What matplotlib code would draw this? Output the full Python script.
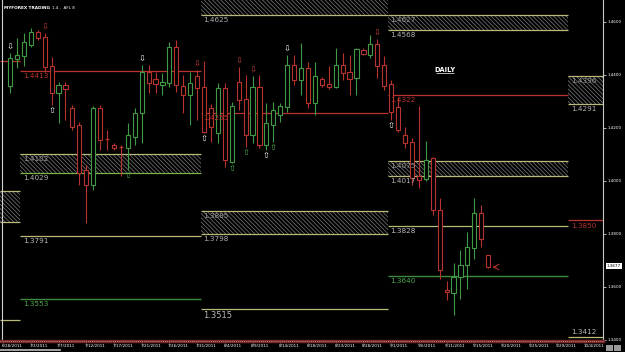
import matplotlib
matplotlib.use("Agg")
import matplotlib.pyplot as plt
import matplotlib.transforms as mtransforms
from matplotlib.patches import Rectangle
from matplotlib.lines import Line2D
import numpy as np

# daily EURUSD bars, 6/29/2011 .. 9/18/2011 (bar index 0..69)
opens = [1.4357, 1.4459, 1.4471, 1.4512, 1.4561, 1.4542, 1.4433, 1.4331, 1.4361, 1.4274,
         1.4210, 1.4040, 1.3984, 1.4274, 1.4161, 1.4135, 1.4131, 1.4124, 1.4165, 1.4256,
         1.4410, 1.4384, 1.4361, 1.4369, 1.4505, 1.4357, 1.4324, 1.4395, 1.4354, 1.4274,
         1.4180, 1.4350, 1.4071, 1.4373, 1.4308, 1.4173, 1.4354, 1.4135, 1.4210, 1.4248,
         1.4278, 1.4437, 1.4380, 1.4425, 1.4293, 1.4384, 1.4365, 1.4354, 1.4437, 1.4410,
         1.4388, 1.4493, 1.4474, 1.4516, 1.4437, 1.4365, 1.4278, 1.4173, 1.4146, 1.4018,
         1.4007, 1.4086, 1.3890, 1.3588, 1.3576, 1.3637, 1.3682, 1.3746, 1.3878, 1.3720]
highs = [1.4482, 1.4539, 1.4557, 1.4576, 1.4569, 1.4557, 1.4467, 1.4373, 1.4373, 1.4286,
         1.4222, 1.4059, 1.4282, 1.4286, 1.4191, 1.4142, 1.4135, 1.4218, 1.4274, 1.4437,
         1.4437, 1.4410, 1.4406, 1.4523, 1.4531, 1.4399, 1.4410, 1.4418, 1.4452, 1.4290,
         1.4369, 1.4369, 1.4297, 1.4429, 1.4399, 1.4395, 1.4399, 1.4293, 1.4297, 1.4293,
         1.4474, 1.4474, 1.4520, 1.4448, 1.4448, 1.4391, 1.4433, 1.4501, 1.4482, 1.4474,
         1.4501, 1.4501, 1.4550, 1.4535, 1.4471, 1.4380, 1.4316, 1.4203, 1.4161, 1.4282,
         1.4150, 1.4090, 1.3935, 1.3622, 1.3690, 1.3739, 1.3807, 1.3935, 1.3908, 1.3720]
lows = [1.4331, 1.4425, 1.4433, 1.4505, 1.4531, 1.4410, 1.4286, 1.4218, 1.4229, 1.4191,
        1.3984, 1.3840, 1.3965, 1.4116, 1.4116, 1.4116, 1.4018, 1.4040, 1.4135, 1.4142,
        1.4331, 1.4331, 1.4324, 1.4354, 1.4335, 1.4256, 1.4210, 1.4229, 1.4180, 1.4146,
        1.4142, 1.4052, 1.4067, 1.4267, 1.4127, 1.4142, 1.4124, 1.4116, 1.4146, 1.4222,
        1.4259, 1.4361, 1.4324, 1.4274, 1.4248, 1.4354, 1.4346, 1.4350, 1.4380, 1.4324,
        1.4324, 1.4474, 1.4463, 1.4388, 1.4342, 1.4229, 1.4184, 1.4124, 1.3984, 1.3973,
        1.3999, 1.3871, 1.3629, 1.3550, 1.3493, 1.3554, 1.3591, 1.3705, 1.3750, 1.3671]
closes = [1.4463, 1.4474, 1.4523, 1.4561, 1.4539, 1.4429, 1.4331, 1.4361, 1.4346, 1.4203,
          1.4029, 1.3984, 1.4274, 1.4154, 1.4157, 1.4124, 1.4127, 1.4173, 1.4256, 1.4410,
          1.4369, 1.4365, 1.4373, 1.4505, 1.4361, 1.4324, 1.4369, 1.4350, 1.4184, 1.4203,
          1.4350, 1.4078, 1.4282, 1.4305, 1.4173, 1.4354, 1.4135, 1.4218, 1.4267, 1.4282,
          1.4437, 1.4380, 1.4425, 1.4293, 1.4395, 1.4361, 1.4354, 1.4437, 1.4406, 1.4384,
          1.4497, 1.4478, 1.4516, 1.4433, 1.4357, 1.4259, 1.4191, 1.4142, 1.4010, 1.4003,
          1.4078, 1.3890, 1.3663, 1.3580, 1.3637, 1.3682, 1.3750, 1.3878, 1.3780, 1.3674]

date_labels = ["6/28/2011", "7/3/2011", "7/7/2011", "7/12/2011", "7/17/2011", "7/21/2011",
               "7/26/2011", "7/31/2011", "8/4/2011", "8/9/2011", "8/14/2011", "8/18/2011",
               "8/23/2011", "8/28/2011", "9/1/2011", "9/6/2011", "9/11/2011", "9/15/2011",
               "9/20/2011", "9/25/2011", "9/29/2011", "10/4/2011"]

# monthly periods (bar units) and their levels
period_edges = [-1.44, 1.5, 27.5, 54.5, 80.5, 85.6]
red_levels = [1.4452, 1.4413, 1.4255, 1.4322, 1.3850]
red_texts = [None, "1.4413", "1.4255", "1.4322", "1.3850"]
# zones: (period, low, high, text inside, text below)
zones = [(0, 1.3843, 1.3961, None, None),
         (1, 1.4029, 1.4102, "1.4102", "1.4029"),
         (2, 1.4625, 1.4700, None, "1.4625"),
         (2, 1.3798, 1.3885, "1.3885", "1.3798"),
         (3, 1.4568, 1.4627, "1.4627", "1.4568"),
         (3, 1.4017, 1.4075, "1.4075", "1.4017"),
         (4, 1.4291, 1.4396, "1.4396", "1.4291")]
khaki_levels = [(0, 1.3476, None), (1, 1.3791, "1.3791"), (2, 1.3515, "1.3515"),
                (3, 1.3828, "1.3828"), (4, 1.3412, "1.3412")]
green_levels = [(1, 1.3553, "1.3553"), (3, 1.3640, "1.3640")]

# signal arrows: bar indexes
down_white = [0, 19, 40]
down_red = [5, 27, 33, 35, 53]
up_white = [6, 28, 37, 55]
up_green = [17, 32, 34, 38]

last_price = 1.3677

BULL = "#3f9a45"
BEAR = "#b8322e"
KHAKI = "#b9b97a"
GLINE = "#3e8a3e"
HATCH = "#7c7c7c"

plt.rcParams["hatch.linewidth"] = 0.5

fig = plt.figure(figsize=(6.25, 3.52), dpi=100, facecolor="black")
ax = fig.add_axes([0, 12 / 352, 603 / 625, 340 / 352])
ax.set_facecolor("black")
ax.set_xlim(-1.443, 85.57)
ax.set_ylim(1.33989, 1.46819)


def level_text(txt, x0, y, color, size=5.2, above=False):
    ax.annotate(txt, (x0, y), xytext=(2, 1 if above else -1.5), textcoords="offset points",
                fontsize=size, color=color, va="bottom" if above else "top", ha="left",
                zorder=6)


# zones
for p, lo, hi, t_in, t_out in zones:
    x0, x1 = period_edges[p], period_edges[p + 1]
    ax.add_patch(Rectangle((x0, lo), x1 - x0, hi - lo, facecolor="black",
                           edgecolor=HATCH, hatch="\\\\\\\\\\\\\\\\", lw=0, zorder=1))
    ax.hlines([hi], x0, x1, color=KHAKI, lw=0.9, zorder=2)
    ax.hlines([lo], x0, x1, color=KHAKI if p != 1 else "#7cb04e", lw=0.9, zorder=2)
    if t_in:
        level_text(t_in, x0, hi, "#9a9a9a")
    if t_out:
        level_text(t_out, x0, lo, "#b0b0b0")

for p, (lvl, txt) in enumerate(zip(red_levels, red_texts)):
    x0, x1 = period_edges[p], period_edges[p + 1]
    ax.hlines([lvl], x0, x1, color=BEAR, lw=0.9, zorder=2)
    if txt:
        level_text(txt, x0, lvl, BEAR)

for p, lvl, txt in khaki_levels:
    x0, x1 = period_edges[p], period_edges[p + 1]
    ax.hlines([lvl], x0, x1, color=KHAKI, lw=0.9, zorder=2)
    if txt:
        level_text(txt, x0, lvl, "#b8b8b8", size=6 if txt == "1.3515" else 5.2,
                   above=(p == 4))

for p, lvl, txt in green_levels:
    x0, x1 = period_edges[p], period_edges[p + 1]
    ax.hlines([lvl], x0, x1, color=GLINE, lw=1.0, zorder=2)
    level_text(txt, x0, lvl, "#4fa84f")

# candles (hollow bodies, like the terminal)
for i in range(len(opens)):
    o, h, l, c = opens[i], highs[i], lows[i], closes[i]
    col = BULL if c >= o else BEAR
    ax.vlines(i, l, h, color=col, lw=0.8, zorder=3)
    lo_b, hi_b = min(o, c), max(o, c)
    if hi_b - lo_b < 0.0004:
        ax.hlines((o + c) / 2, i - 0.3, i + 0.3, color=col, lw=0.9, zorder=4)
    else:
        ax.add_patch(Rectangle((i - 0.3, lo_b), 0.6, hi_b - lo_b, facecolor="black",
                               edgecolor=col, lw=0.8, zorder=4))

for i in down_white:
    ax.annotate("\u21e9", (i, highs[i]), xytext=(0, 1), textcoords="offset points",
                ha="center", va="bottom", fontsize=6, color="white", zorder=7)
for i in down_red:
    ax.annotate("\u21e9", (i, highs[i]), xytext=(0, 1), textcoords="offset points",
                ha="center", va="bottom", fontsize=6, color="#d04040", zorder=7)
for i in up_white:
    ax.annotate("\u21e7", (i, lows[i]), xytext=(0, -1), textcoords="offset points",
                ha="center", va="top", fontsize=6, color="white", zorder=7)
for i in up_green:
    ax.annotate("\u21e7", (i, lows[i]), xytext=(0, -1), textcoords="offset points",
                ha="center", va="top", fontsize=6, color="#4fb04f", zorder=7)

# pointer to the last bar
n = len(closes) - 1
ax.annotate("", xy=(n + 0.2, closes[n]), xytext=(n + 1.6, closes[n]),
            arrowprops=dict(arrowstyle="->", color=BEAR, lw=0.7))

ax.text(62.7, 1.4417, "DAILY", fontsize=4.8, fontweight="bold", color="white",
        ha="center", va="center", zorder=7)
ax.hlines(1.4405, 61.4, 64.0, color="white", lw=0.5)

# axes cosmetics
for s in ["top", "left", "bottom"]:
    ax.spines[s].set_visible(False)
ax.spines["right"].set_color("#c8c8c8")
ax.spines["right"].set_linewidth(0.8)
ax.axvline(-1.15, color="#d0d0d0", lw=0.8)
ax.yaxis.tick_right()
yt = np.arange(1.34, 1.4601, 0.02)
ax.set_yticks(yt)
ax.set_yticklabels([f"{v:.4f}" for v in yt])
ax.tick_params(axis="y", colors="white", labelsize=3, length=2, width=0.5, pad=1.5)

ax.set_xticks(np.arange(len(date_labels)) * 4 - 1)
ax.set_xticklabels([])
ax.tick_params(axis="x", colors="white", length=2, width=0.4)
trans = mtransforms.blended_transform_factory(ax.transData, ax.transAxes)
for j, lab in enumerate(date_labels):
    ax.text(j * 4 - 1 - 0.2, -0.012, lab, transform=trans, fontsize=3, color="white",
            ha="left", va="top")

# bottom strip and scroll bar
fig.add_artist(Line2D([0, 603 / 625], [1 - 341 / 352] * 2, color="#7a2828", lw=2.5))
fig.add_artist(Line2D([0, 603 / 625], [1 - 341 / 352] * 2, color="#d8a0a0", lw=0.6,
                      linestyle=(0, (1, 1.5))))
fig.add_artist(Line2D([0, 60 / 625], [1 - 350 / 352] * 2, color="#c0c0c0", lw=1.2))
fig.add_artist(Rectangle((606 / 625, 1 - 351 / 352), 7 / 625, 6 / 352,
                         facecolor="#9a9a9a", edgecolor="none"))
fig.add_artist(Rectangle((614 / 625, 1 - 351 / 352), 7 / 625, 6 / 352,
                         facecolor="#9a9a9a", edgecolor="none"))

ax.text(1.006, last_price, f"{last_price:.4f}", transform=mtransforms.blended_transform_factory(
    ax.transAxes, ax.transData), fontsize=3, color="black", va="center", ha="left",
    bbox=dict(facecolor="white", edgecolor="none", pad=0.6), clip_on=False)

fig.text(4 / 625, 1 - 8 / 352, "MYFOREX TRADING", fontsize=3.1, fontweight="bold",
         color="white", va="center", ha="left")
fig.text(52 / 625, 1 - 8 / 352, "1.4 -  AFL 8", fontsize=3.0, color="white",
         va="center", ha="left")

fig.savefig("out.png", dpi=100, facecolor="black")
